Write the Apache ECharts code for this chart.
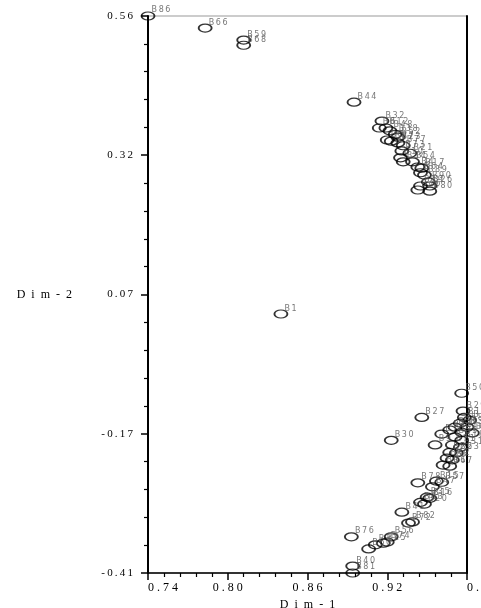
<!DOCTYPE html>
<html>
<head>
<meta charset="utf-8">
<script src="https://cdn.jsdelivr.net/npm/echarts@6/dist/echarts.min.js"></script>
<style>
  html, body { margin: 0; padding: 0; background: #fff; }
  #chart { width: 481px; height: 608px; }
</style>
</head>
<body>
<div id="chart"></div>
<script>
// 点名称与坐标 (Dim-1, Dim-2)
var pointNames = [
    'B86', 'B66', 'B59', 'B68', 'B44', 'B1',
    'B32', 'B6', 'B12', 'B48', 'B38', 'B52', 'B87', 'B7', 'B23', 'B77', 'B73', 'B10',
    'B21', 'B34', 'B54', 'B4', 'B17', 'B64', 'B89', 'B90', 'B19', 'B26', 'B46', 'B80',
    'B50', 'B29', 'B27', 'B13', 'B3', 'B58', 'B39', 'B36', 'B43', 'B14', 'B70', 'B65',
    'B55', 'B18', 'B30', 'B9', 'B71', 'B31', 'B22', 'B63', 'B42', 'B8', 'B11', 'B67',
    'B78', 'B15', 'B57', 'B47', 'B35', 'B16', 'B83', 'B20', 'B41', 'B72', 'B82',
    'B56', 'B76', 'B74', 'B25', 'B37', 'B60', 'B40', 'B81'
];
var dim1 = [
    0.740, 0.783, 0.812, 0.812, 0.895, 0.840,
    0.916, 0.914, 0.919, 0.922, 0.926, 0.928, 0.923, 0.920, 0.928, 0.932, 0.931, 0.930,
    0.937, 0.932, 0.939, 0.943, 0.946, 0.945, 0.948, 0.951, 0.945, 0.952, 0.943, 0.952,
    0.976, 0.977, 0.946, 0.978, 0.982, 0.975, 0.971, 0.980, 0.967, 0.976, 0.961, 0.984,
    0.971, 0.976, 0.923, 0.956, 0.969, 0.975, 0.967, 0.972, 0.965, 0.969, 0.962, 0.967,
    0.943, 0.957, 0.961, 0.954, 0.950, 0.952, 0.945, 0.948, 0.931, 0.936, 0.939,
    0.923, 0.893, 0.920, 0.917, 0.911, 0.906, 0.894, 0.894
];
var dim2 = [
    0.560, 0.539, 0.518, 0.509, 0.410, 0.041,
    0.377, 0.365, 0.365, 0.360, 0.354, 0.349, 0.342, 0.344, 0.339, 0.334, 0.325, 0.313,
    0.321, 0.306, 0.306, 0.297, 0.295, 0.287, 0.283, 0.271, 0.264, 0.264, 0.257, 0.255,
    -0.097, -0.128, -0.139, -0.139, -0.144, -0.149, -0.156, -0.156, -0.161, -0.165, -0.168, -0.166,
    -0.173, -0.179, -0.179, -0.187, -0.187, -0.191, -0.200, -0.201, -0.210, -0.213, -0.222, -0.224,
    -0.253, -0.250, -0.252, -0.260, -0.278, -0.280, -0.287, -0.290, -0.304, -0.323, -0.321,
    -0.347, -0.347, -0.356, -0.358, -0.361, -0.368, -0.398, -0.410
];
var xTickLabels = ['0.74', '0.80', '0.86', '0.92', '0.98'];
var yTickLabels = ['-0.41', '-0.17', '0.07', '0.32', '0.56'];

var ellipse = 'path://M0,4 A6.5,4 0 1,1 13,4 A6.5,4 0 1,1 0,4 Z';
var serif = '"Liberation Serif", "DejaVu Serif", serif';

// 字间距用空格模拟
function spaced(s, gap) { return s.split('').join(gap || '\u2002'); }

var points = pointNames.map(function (name, i) {
    return { name: name, value: [dim1[i], dim2[i]] };
});

var option = {
    animation: false,
    backgroundColor: '#fff',
    grid: {
        left: 148, top: 16, right: 14, bottom: 35,
        outerBoundsMode: 'none',
        containLabel: false,
        show: true, borderColor: '#999', borderWidth: 1
    },
    xAxis: [{
        type: 'value',
        min: 0.74, max: 0.98, interval: 0.06,
        name: spaced('Dim-1'),
        nameLocation: 'middle', nameGap: 16,
        nameTextStyle: { fontFamily: serif, fontSize: 12, color: '#000' },
        axisLine: { show: true, onZero: false, lineStyle: { color: '#000', width: 1.5 } },
        axisTick: { show: true, inside: false, length: 7, lineStyle: { color: '#000', width: 1.5 } },
        minorTick: { show: true, splitNumber: 5, length: 4, lineStyle: { color: '#000', width: 1.2 } },
        axisLabel: {
            margin: 9,
            alignMinLabel: 'left',
            alignMaxLabel: 'left',
            fontFamily: serif,
            fontSize: 12,
            color: '#000',
            formatter: function (v, idx) { return spaced(xTickLabels[idx] || '', ' '); }
        },
        splitLine: { show: false }
    }],
    yAxis: [{
        type: 'value',
        min: -0.41, max: 0.56, interval: 0.2425,
        name: spaced('Dim-2'),
        nameLocation: 'middle', nameGap: 76, nameRotate: 0,
        nameTextStyle: { fontFamily: serif, fontSize: 12, color: '#000' },
        axisLine: { show: true, onZero: false, lineStyle: { color: '#000', width: 2 } },
        axisTick: { show: true, inside: false, length: 7, lineStyle: { color: '#000', width: 1.5 } },
        minorTick: { show: true, splitNumber: 5, length: 4, lineStyle: { color: '#000', width: 1.2 } },
        axisLabel: {
            margin: 15,
            fontFamily: serif,
            fontSize: 11,
            color: '#000',
            formatter: function (v, idx) { return spaced(yTickLabels[idx] || '', '\u2009'); }
        },
        splitLine: { show: false }
    }, {
        type: 'value',
        position: 'right',
        min: -0.41, max: 0.56, interval: 0.2425,
        axisLine: { show: true, onZero: false, lineStyle: { color: '#000', width: 2 } },
        axisTick: { show: false },
        axisLabel: { show: false },
        splitLine: { show: false }
    }],
    series: [{
        type: 'scatter',
        clip: false,
        symbol: ellipse,
        symbolSize: [13, 8],
        itemStyle: { color: 'rgba(255,255,255,0)', borderColor: '#000', borderWidth: 1.5 },
        label: {
            show: true,
            position: [11, -1],
            align: 'left',
            verticalAlign: 'middle',
            formatter: function (p) { return spaced(p.name, '\u2009'); },
            fontFamily: 'DejaVu Sans, sans-serif',
            fontSize: 8,
            color: '#555'
        },
        labelLayout: { hideOverlap: false },
        data: points
    }]
};

var chart = echarts.init(document.getElementById('chart'));
chart.setOption(option);
</script>
</body>
</html>
